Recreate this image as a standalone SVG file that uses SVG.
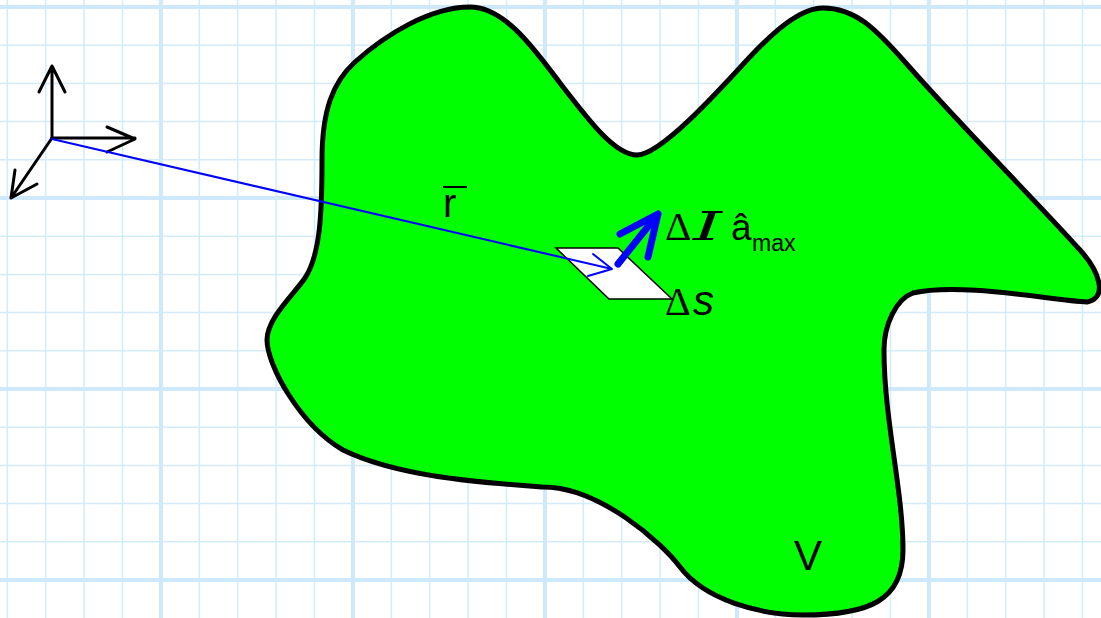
<svg xmlns="http://www.w3.org/2000/svg" width="1101" height="618" viewBox="0 0 1101 618">
<style>
.thin{stroke:#d2ecfc;stroke-width:1.5;fill:none}
.thick{stroke:#cde9fb;stroke-width:4;fill:none}
.axis{stroke:#000;stroke-width:3;fill:none;stroke-linecap:round;stroke-linejoin:round}
.rvec{stroke:#0000ff;stroke-width:2;fill:none;stroke-linecap:round;stroke-linejoin:round}
.ivec{stroke:#0000ff;stroke-width:7;fill:none;stroke-linecap:round;stroke-linejoin:round}
.lbl{font-family:"Liberation Sans","Open Sans",sans-serif;fill:#000}
.ser{font-family:"Liberation Serif","DejaVu Serif",serif;fill:#000}
.ital{font-family:"DejaVu Serif","Liberation Serif",serif;font-style:italic;fill:#000}
</style>
<rect width="1101" height="618" fill="#fff"/>
<g id="grid">
<path class="thin" d="M7.3,0V618M45.7,0V618M84.1,0V618M122.5,0V618M199.3,0V618M237.7,0V618M276.1,0V618M314.5,0V618M391.3,0V618M429.7,0V618M468.1,0V618M506.5,0V618M583.3,0V618M621.7,0V618M660.1,0V618M698.5,0V618M775.3,0V618M813.7,0V618M852.1,0V618M890.5,0V618M967.3,0V618M1005.7,0V618M1044.1,0V618M1082.5,0V618"/>
<path class="thin" d="M0,45.2H1101M0,83.4H1101M0,121.6H1101M0,159.8H1101M0,236.2H1101M0,274.4H1101M0,312.6H1101M0,350.8H1101M0,427.2H1101M0,465.4H1101M0,503.6H1101M0,541.8H1101"/>
<path class="thick" d="M160.9,0V618M352.9,0V618M544.9,0V618M736.9,0V618M928.9,0V618M0,7H1101M0,198H1101M0,389H1101M0,580H1101"/>
</g>
<g id="volume">
<path d="M470,7 C505,7 535,50 560,83 C590,122 615,155 637,155 C660,155 715,95 747,60 C773,32 800,8 823,8 C855,8 875,28 905,62 C960,125 1040,205 1080,250 C1100,272 1108,298 1087,302 C1050,300 960,282 913,293 C896,299 884,325 884,350 C884,420 903,490 903,550 C903,600 870,615 803,615 C760,615 705,600 680,567 C662,543 600,487 543,487 C490,483 400,478 343,450 C300,425 267,365 267,340 C267,318 295,293 305,278 C320,255 322,215 322,160 C322,110 333,82 355,62 C385,35 430,7 470,7 Z" fill="#00ff00" stroke="#000" stroke-width="5" stroke-linejoin="round"/>
<text class="lbl" x="808" y="570" font-size="42" text-anchor="middle">V</text>
</g>
<g id="axes">
<path class="axis" d="M52,138V66M39,92L52,66L65,92"/>
<path class="axis" d="M52,138H135M107,127L135,139L107,152"/>
<path class="axis" d="M52,138L11,198M15,170L11,198L37,184"/>
</g>
<g id="surface">
<path d="M556,248H618L672,299H609Z" fill="#fff" stroke="#000" stroke-width="1.5" stroke-linejoin="miter"/>
<text class="ser" x="665" y="315" font-size="40">Δ</text>
<text class="lbl" x="693" y="315" font-size="42" font-style="italic">s</text>
</g>
<g id="connectors">
<path class="rvec" d="M52,139L612,269M593,254L612,269L588,276"/>
<path class="ivec" d="M618,264L658,214M620,234L658,214L648,257"/>
</g>
<g id="labels">
<line x1="443" y1="187" x2="467" y2="187" stroke="#000" stroke-width="2"/>
<text class="lbl" x="443" y="217" font-size="40">r</text>
<text class="ser" x="665" y="240" font-size="41">Δ</text>
<text class="ital" x="693" y="240" font-size="40" textLength="29" lengthAdjust="spacingAndGlyphs">I</text>
<text class="lbl" x="731" y="240" font-size="37">â</text>
<text class="lbl" x="752" y="251" font-size="23">max</text>
</g>
</svg>
